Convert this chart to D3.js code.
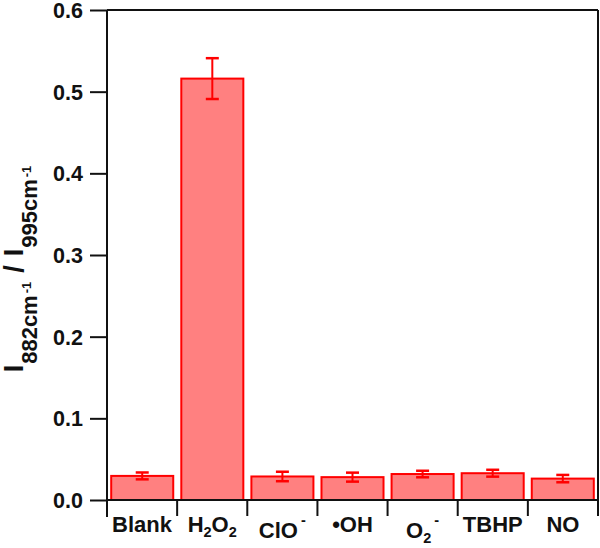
<!DOCTYPE html>
<html>
<head>
<meta charset="utf-8">
<script src="https://cdn.jsdelivr.net/npm/d3@7"></script>
<style>
  html, body { margin: 0; padding: 0; background: #fff; }
  svg { display: block; }
  text { font-family: "Liberation Sans", Arial, sans-serif; font-weight: bold; fill: #111; }
</style>
</head>
<body>
<svg id="chart" width="600" height="548"></svg>
<script>
// ---- data ----
const categories = ["Blank", "H2O2", "ClO-", "OH", "O2-", "TBHP", "NO"];
const values = [0.0295, 0.516, 0.0288, 0.0280, 0.0318, 0.0328, 0.0262];
const errors = [0.0042, 0.025, 0.0058, 0.0055, 0.0040, 0.0042, 0.0045];
const yTicks = [0.0, 0.1, 0.2, 0.3, 0.4, 0.5, 0.6];
// label pieces: [text, kind] kind: n normal, sub, sup
const labelParts = [
  [["Blank", "n"]],
  [["H", "n"], ["2", "sub"], ["O", "n"], ["2", "sub"]],
  [["ClO", "n"], ["-", "sup"]],
  [["\u2022OH", "n"]],
  [["O", "n"], ["2", "sub"], ["-", "sup"]],
  [["TBHP", "n"]],
  [["NO", "n"]]
];
const labelDrop = [0, 0, 6, 0, 6, 0, 0];

(function () {
const svg = d3.select("#chart");
const mLeft = 107, mRight = 598, mTop = 10, mBottom = 500;

const x = d3.scaleBand().domain(categories).range([mLeft, mRight]).paddingInner(0.115).paddingOuter(0.06);
const xb = d3.scaleBand().domain(categories).range([mLeft, mRight]).padding(0);
const y = d3.scaleLinear().domain([0, 0.6]).range([mBottom, mTop]);

// bars
svg.append("g").selectAll("rect").data(values).join("rect")
  .attr("x", (d, i) => x(categories[i]))
  .attr("y", d => y(d))
  .attr("width", x.bandwidth())
  .attr("height", d => y(0) - y(d))
  .attr("fill", "#ff8080")
  .attr("stroke", "#ff0000")
  .attr("stroke-width", 2);

// error bars
const eg = svg.append("g").attr("stroke", "#ff0000").attr("stroke-width", 2);
values.forEach((v, i) => {
  const cx = x(categories[i]) + x.bandwidth() / 2;
  const y1 = y(v + errors[i]), y0 = y(v - errors[i]);
  eg.append("line").attr("x1", cx).attr("x2", cx).attr("y1", y1).attr("y2", y0);
  eg.append("line").attr("x1", cx - 6.5).attr("x2", cx + 6.5).attr("y1", y1).attr("y2", y1).attr("stroke-width", 2.5);
  eg.append("line").attr("x1", cx - 6.5).attr("x2", cx + 6.5).attr("y1", y0).attr("y2", y0).attr("stroke-width", 2.5);
});

// frame
const fg = svg.append("g").attr("stroke", "#111").attr("stroke-width", 2).attr("fill", "none");
fg.append("line").attr("x1", mLeft).attr("x2", mRight).attr("y1", mTop).attr("y2", mTop);
fg.append("line").attr("x1", mLeft).attr("x2", mRight).attr("y1", mBottom).attr("y2", mBottom);
fg.append("line").attr("x1", mRight).attr("x2", mRight).attr("y1", mTop).attr("y2", mBottom);

// y axis
const yAxis = d3.axisLeft(y).tickValues(yTicks).tickFormat(d3.format(".1f")).tickSize(17).tickPadding(7);
const yg = svg.append("g").attr("transform", `translate(${mLeft},0)`).call(yAxis);
yg.select(".domain").attr("stroke", "#111").attr("stroke-width", 2).attr("d", `M0,${mTop}V${mBottom + 17}`);
yg.selectAll(".tick line").attr("stroke", "#111").attr("stroke-width", 2);
yg.selectAll(".tick text").attr("font-size", 21.5).attr("font-family", "Liberation Sans, Arial, sans-serif")
  .attr("font-weight", "bold").attr("fill", "#111").attr("dy", "0.35em");

// x category boundary ticks
const bounds = categories.map(c => xb(c)).concat([mRight]);
svg.append("g").selectAll("line").data(bounds).join("line")
  .attr("x1", d => d).attr("x2", d => d)
  .attr("y1", mBottom).attr("y2", mBottom + 16)
  .attr("stroke", "#111").attr("stroke-width", 2);

// x labels
labelParts.forEach((parts, i) => {
  const cx = xb(categories[i]) + xb.bandwidth() / 2;
  const t = svg.append("text").attr("x", cx).attr("y", 532 + labelDrop[i])
    .attr("text-anchor", "middle").attr("font-size", 22);
  parts.forEach(([s, k]) => {
    const ts = t.append("tspan").text(s);
    if (k === "sub") ts.attr("font-size", 14.5).attr("baseline-shift", "-5");
    if (k === "sup") ts.attr("font-size", 14.5).attr("baseline-shift", "13").attr("dx", 3);
  });
});

// y label
const yl = svg.append("text")
  .attr("transform", "translate(22.5,269) rotate(-90)")
  .attr("text-anchor", "middle").attr("font-size", 27);
yl.append("tspan").text("I");
yl.append("tspan").text("882cm").attr("font-size", 22).attr("baseline-shift", "-14").attr("dx", 1);
yl.append("tspan").text("-1").attr("font-size", 13).attr("baseline-shift", "-8").attr("dx", 2);
yl.append("tspan").text("/").attr("font-size", 27).attr("dx", 9);
yl.append("tspan").text("I").attr("font-size", 27).attr("dx", 9);
yl.append("tspan").text("995cm").attr("font-size", 22).attr("baseline-shift", "-14").attr("dx", 1);
yl.append("tspan").text("-1").attr("font-size", 13).attr("baseline-shift", "-8").attr("dx", 2);
})();
</script>
</body>
</html>
